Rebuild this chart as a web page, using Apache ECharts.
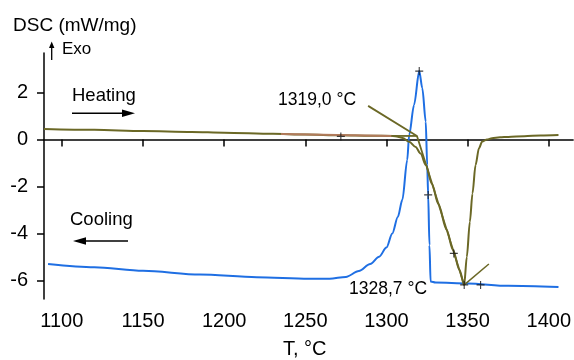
<!DOCTYPE html>
<html><head><meta charset="utf-8">
<script src="https://cdn.jsdelivr.net/npm/echarts@6/dist/echarts.min.js"></script>
<style>html,body{margin:0;padding:0;background:#fff}#c{width:574px;height:360px}</style>
</head><body><div id="c"></div>
<script>
// Tick labels
const xTicks = [1100, 1150, 1200, 1250, 1300, 1350, 1400];
const yTicks = [-6, -4, -2, 0, 2];

// Heating curve (T, DSC)
const heatT = [1089,1120,1150,1180,1200,1230,1250,1272,1290,1304,1307,1310,1314,1318,1321,1324.3,1328,1332,1337,1341,1345,1347.9,1349.5,1351.4,1353,1354.9,1357,1359,1362,1365,1370,1375,1385,1395,1406];
const heatV = [0.45,0.41,0.36,0.32,0.29,0.24,0.21,0.18,0.16,0.15,0.12,0.06,-0.10,-0.32,-0.60,-1.09,-1.89,-2.75,-3.83,-4.70,-5.56,-6.19,-5.00,-3.50,-2.30,-1.09,-0.37,-0.09,0.00,0.05,0.09,0.11,0.14,0.17,0.19];

// Baseline segment on heating curve (brown)
const baseT = [1235, 1304];
const baseV = [0.23, 0.15];

// Cooling curve
const coolT = [1091.5,1120,1150,1185,1220,1252,1265,1275,1283,1290,1295.5,1300,1303.6,1307,1309.8,1312.8,1314,1317,1320.2,1322.1,1324.2,1325.1,1325.7,1326.5,1327.2,1330.3,1350,1375,1406];
const coolV = [-5.30,-5.44,-5.59,-5.75,-5.86,-5.93,-5.93,-5.85,-5.60,-5.30,-4.99,-4.60,-4.00,-3.30,-2.57,-0.87,0.19,1.47,2.91,2.18,0.76,-1.09,-2.36,-4.50,-6.05,-6.09,-6.13,-6.23,-6.28];

// Onset tangent construction
const tanT = [1288.7, 1318.8, 1347.9];
const tanV = [1.43, 0.15, -6.19];
const extT = [1303, 1318.8];
const extV = [0.15, 0.15];
const shortT = [1347.9, 1363.1];
const shortV = [-6.19, -5.30];

// Cross markers
const markT = [1271.9, 1320.2, 1325.7, 1341.5, 1347.9, 1358];
const markV = [0.13, 2.91, -2.36, -4.85, -6.19, -6.19];

const zip = (a, b) => a.map((v, i) => [v, b[i]]);
const FONT = 'Liberation Sans, Arial, sans-serif';
const OLIVE = '#6b6826';
const BLUE = '#1f6fe3';
const BROWN = '#b27b5c';

const chart = echarts.init(document.getElementById('c'), null, {renderer: 'canvas'});
const plus = 'path://M4.3,0H5.7V10H4.3Z M0,4.3H10V5.7H0Z';

chart.setOption({
  animation: false,
  backgroundColor: '#fff',
  grid: {left: 44, right: 0, top: 53, bottom: 61, containLabel: false},
  xAxis: {
    type: 'value', min: 1089, max: 1415,
    axisLine: {show: true, lineStyle: {color: '#000', width: 1.5}},
    axisTick: {show: true, length: 7, lineStyle: {color: '#000', width: 1.5}, customValues: xTicks},
    axisLabel: {color: '#000', fontSize: 20, fontFamily: FONT, margin: 12, customValues: xTicks,
                formatter: v => String(v)},
    splitLine: {show: false}
  },
  yAxis: {
    type: 'value', min: -6.79, max: 3.68,
    axisLine: {show: true, lineStyle: {color: '#000', width: 1.5}},
    axisTick: {show: true, length: 7, lineStyle: {color: '#000', width: 1.5}, customValues: yTicks},
    axisLabel: {color: '#000', fontSize: 20, fontFamily: FONT, margin: 16, customValues: yTicks,
                formatter: v => String(v)},
    splitLine: {show: false}
  },
  series: [
    {type: 'line', data: zip(coolT, coolV), showSymbol: false, smooth: 0.3, smoothMonotone: 'x',
     lineStyle: {color: BLUE, width: 2}, z: 2},
    {type: 'line', data: zip(heatT, heatV), showSymbol: false, smooth: 0.3, smoothMonotone: 'x',
     lineStyle: {color: OLIVE, width: 2}, z: 3},
    {type: 'line', data: zip(baseT, baseV), showSymbol: false,
     lineStyle: {color: BROWN, width: 2}, z: 4},
    {type: 'line', data: zip(tanT, tanV), showSymbol: false,
     lineStyle: {color: OLIVE, width: 1.8}, z: 4},
    {type: 'line', data: zip(extT, extV), showSymbol: false,
     lineStyle: {color: OLIVE, width: 1.8}, z: 4},
    {type: 'line', data: zip(shortT, shortV), showSymbol: false,
     lineStyle: {color: OLIVE, width: 1.5}, z: 4},
    {type: 'scatter', data: zip(markT, markV), symbol: plus, symbolSize: 8,
     itemStyle: {color: '#111'}, z: 6}
  ],
  graphic: [
    {type: 'text', left: 13, top: 16, style: {text: 'DSC (mW/mg)', font: '19px ' + FONT, fill: '#000'}},
    {type: 'line', shape: {x1: 51.7, y1: 46, x2: 51.7, y2: 60}, style: {stroke: '#000', lineWidth: 1.3}},
    {type: 'polygon', shape: {points: [[51.7, 41.5], [49, 48], [54.4, 48]]}, style: {fill: '#000'}},
    {type: 'text', left: 62, top: 41, style: {text: 'Exo', font: '17px ' + FONT, fill: '#000'}},
    {type: 'text', left: 72, top: 86, style: {text: 'Heating', font: '18.5px ' + FONT, fill: '#000'}},
    {type: 'line', shape: {x1: 72, y1: 113.3, x2: 126, y2: 113.3}, style: {stroke: '#000', lineWidth: 1.5}},
    {type: 'polygon', shape: {points: [[135, 113.3], [122, 109.5], [122, 117.1]]}, style: {fill: '#000'}},
    {type: 'text', left: 70, top: 210, style: {text: 'Cooling', font: '18.5px ' + FONT, fill: '#000'}},
    {type: 'line', shape: {x1: 82, y1: 241, x2: 128, y2: 241}, style: {stroke: '#000', lineWidth: 1.5}},
    {type: 'polygon', shape: {points: [[73, 241], [86, 237.2], [86, 244.8]]}, style: {fill: '#000'}},
    {type: 'text', left: 278, top: 91, style: {text: '1319,0 \u00B0C', font: '17.5px ' + FONT, fill: '#000'}},
    {type: 'text', left: 349, top: 280, style: {text: '1328,7 \u00B0C', font: '17.5px ' + FONT, fill: '#000'}},
    {type: 'text', left: 283, top: 339, style: {text: 'T, \u00B0C', font: '20px ' + FONT, fill: '#000'}}
  ]
});
</script></body></html>
